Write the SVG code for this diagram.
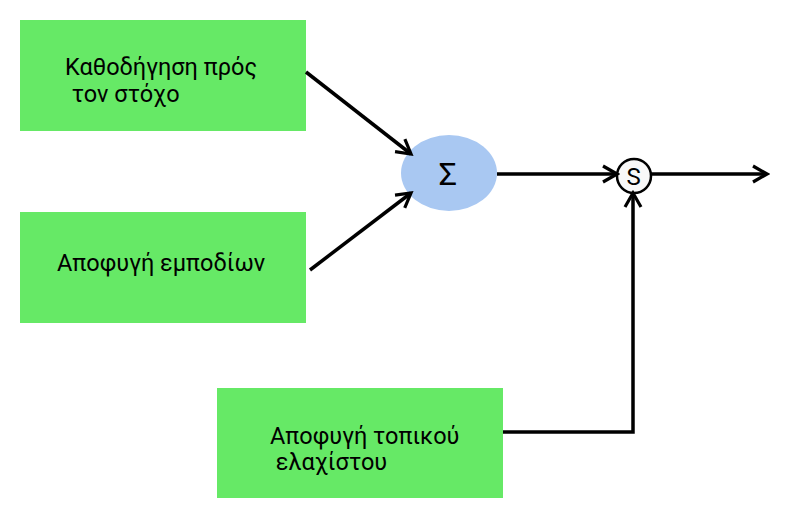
<svg xmlns="http://www.w3.org/2000/svg" width="791" height="530" viewBox="0 0 791 530">
<defs>
<marker id="arr" viewBox="0 0 20 20" refX="17" refY="10" markerWidth="20" markerHeight="20" markerUnits="userSpaceOnUse" orient="auto">
<polyline points="3,2 17,10 3,18" fill="none" stroke="#000" stroke-width="3.2"/>
</marker>
<style>
.box{fill:#66e966;}
.t{font-family:Roboto,"Liberation Sans",sans-serif;font-size:23.5px;fill:#000;}
.c{fill:none;stroke:#000;stroke-width:3.5;}
</style>
</defs>
<rect width="791" height="530" fill="#fff"/>
<g id="n1"><rect class="box" x="20" y="20" width="286" height="111"/><text class="t" x="65" y="75">Καθοδήγηση πρός</text><text class="t" x="66" y="102" xml:space="preserve"> τον στόχο</text></g>
<g id="n2"><rect class="box" x="20" y="212" width="286" height="111"/><text class="t" x="57" y="271">Αποφυγή εμποδίων</text></g>
<g id="n3"><rect class="box" x="217" y="388" width="286" height="110"/><text class="t" x="270" y="444">Αποφυγή τοπικού</text><text class="t" x="270" y="470" xml:space="preserve"> ελαχίστου</text></g>
<g id="sum"><ellipse cx="449" cy="173" rx="48" ry="38" fill="#a9c8f2"/><text x="448" y="185" text-anchor="middle" style="font-family:Roboto,'Liberation Sans',sans-serif;font-size:32px">Σ</text></g>
<g id="s"><circle cx="634" cy="176" r="17" fill="#f8f8f8" stroke="#000" stroke-width="2.5"/><text x="633.5" y="185" text-anchor="middle" style="font-family:Roboto,'Liberation Sans',sans-serif;font-size:24px">S</text></g>
<g id="connectors">
<line class="c" x1="306" y1="72" x2="411" y2="154" marker-end="url(#arr)"/>
<line class="c" x1="310" y1="270" x2="411" y2="193" marker-end="url(#arr)"/>
<line class="c" x1="497" y1="174" x2="617" y2="174" marker-end="url(#arr)"/>
<polyline class="c" points="503,432 633,432 633,193" marker-end="url(#arr)"/>
<line class="c" x1="651" y1="174" x2="767" y2="174" marker-end="url(#arr)"/>
</g>
</svg>
